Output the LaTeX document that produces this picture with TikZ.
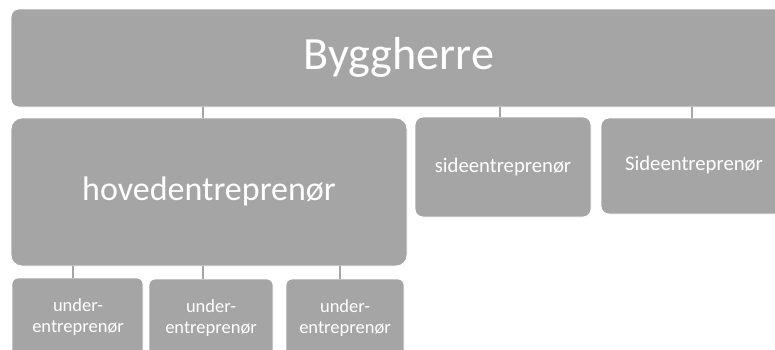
\documentclass[tikz,border=0pt]{standalone}
\usepackage{fontspec}
\setmainfont{Carlito}
\definecolor{boxgray}{HTML}{A5A5A5}
\begin{document}
\begin{tikzpicture}[x=1pt,y=-1pt,
  orgbox/.style={fill=boxgray,draw=white,line width=0.8pt,rounded corners=#1},
  orgbox/.default=8pt,
  link/.style={draw=boxgray,line width=1.6pt},
  lbl/.style={text=white,align=center,inner sep=0pt},
  sublbl/.style={lbl,font=\fontsize{18.5}{21}\selectfont}]
\useasboundingbox (0,0) rectangle (775,349);
\clip (0,0) rectangle (775,349);
\fill[white] (0,0) rectangle (775,349);
% boxes with their labels
\draw[orgbox] (11,9) rectangle (787,107);
\node[lbl,font=\fontsize{46.2}{50}\selectfont] (byg) at (399,57) {Byggherre};
\draw[orgbox=11pt] (11,118) rectangle (407,266);
\node[lbl,font=\fontsize{34}{38}\selectfont] (hov) at (209,191) {hovedentreprenør};
\draw[orgbox] (415,117) rectangle (591,217);
\node[lbl,font=\fontsize{20.7}{24}\selectfont] (s1) at (503,167) {sideentreprenør};
\draw[orgbox] (601,118) rectangle (785,214);
\node[lbl,font=\fontsize{20.7}{24}\selectfont] (s2) at (694,165) {Sideentreprenør};
\draw[orgbox=6pt] (12,278) rectangle (143,356);
\draw[orgbox=6pt] (149,279) rectangle (273,356);
\draw[orgbox=6pt] (286,279) rectangle (404,356);
\node[sublbl] (u1) at (78,317) {under-\\entreprenør};
\node[sublbl] (u2) at (211,318) {under-\\entreprenør};
\node[sublbl] (u3) at (345,318) {under-\\entreprenør};
% connectors between the levels
\coordinate (bygA) at (203,107);
\coordinate (bygB) at (500,107);
\coordinate (bygC) at (692,107);
\coordinate (hovA) at (73,266);
\coordinate (hovB) at (203,266);
\coordinate (hovC) at (340,266);
\draw[link] (bygA) -- (bygA |- 0,118);
\draw[link] (bygB) -- (bygB |- 0,117);
\draw[link] (bygC) -- (bygC |- 0,118);
\draw[link] (hovA) -- (hovA |- 0,278);
\draw[link] (hovB) -- (hovB |- 0,279);
\draw[link] (hovC) -- (hovC |- 0,279);
\end{tikzpicture}
\end{document}
